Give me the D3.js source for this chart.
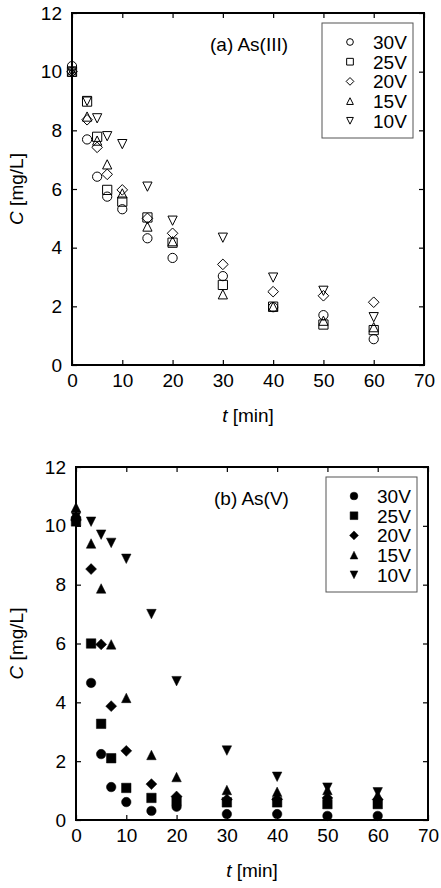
<!doctype html>
<html lang="en">
<head>
<meta charset="utf-8">
<title>As removal</title>
<script src="https://d3js.org/d3.v7.min.js"></script>
<style>
  body { margin: 0; background: #fff; }
  svg text { font-family: "Liberation Sans", Arial, sans-serif; fill: #000; }
  .frame { fill: none; stroke: #000; stroke-width: 2; }
</style>
</head>
<body>
<div id="chart"></div>
<script>
// sampling times [min]
const times = [0, 3, 5, 7, 10, 15, 20, 30, 40, 50, 60];
const voltages = ['30V', '25V', '20V', '15V', '10V'];
const xTicks = [0, 10, 20, 30, 40, 50, 60, 70];
const yTicks = [0, 2, 4, 6, 8, 10, 12];

// (a) As(III) concentration [mg/L]
const as3_30V = [10.19, 7.69, 6.42, 5.74, 5.31, 4.32, 3.65, 3.03, 1.97, 1.70, 0.88];
const as3_25V = [10.0, 8.98, 7.78, 5.97, 5.57, 5.03, 4.17, 2.73, 1.99, 1.38, 1.19];
const as3_20V = [10.0, 8.36, 7.42, 6.50, 5.97, 5.0, 4.49, 3.43, 2.50, 2.36, 2.14];
const as3_15V = [10.0, 8.47, 7.65, 6.84, 5.85, 4.72, 4.22, 2.41, 1.99, 1.51, 1.29];
const as3_10V = [10.0, 9.0, 8.41, 7.80, 7.53, 6.08, 4.92, 4.34, 2.98, 2.53, 1.63];

// (b) As(V) concentration [mg/L]
const as5_30V = [10.25, 4.66, 2.24, 1.12, 0.61, 0.31, 0.45, 0.20, 0.20, 0.14, 0.14];
const as5_25V = [10.15, 6.0, 3.27, 2.10, 1.09, 0.75, 0.65, 0.60, 0.60, 0.54, 0.54];
const as5_20V = [10.2, 8.53, 5.97, 3.87, 2.35, 1.22, 0.80, 0.70, 0.70, 0.75, 0.70];
const as5_15V = [10.63, 9.40, 7.87, 5.97, 4.15, 2.21, 1.46, 1.02, 0.96, 1.02, 0.85];
const as5_10V = [10.3, 10.14, 9.70, 9.42, 8.88, 7.0, 4.72, 2.36, 1.47, 1.10, 0.94];

// matplotlib-like marker shapes
const mk = {
  circle: { draw(c, s) { const r = Math.sqrt(s) / 2; c.moveTo(r, 0); c.arc(0, 0, r, 0, 2 * Math.PI); } },
  square: { draw(c, s) { const r = Math.sqrt(s) / 2; c.rect(-r, -r, 2 * r, 2 * r); } },
  diamond: { draw(c, s) { const r = Math.sqrt(s) / 2 * 1.15; c.moveTo(0, -r); c.lineTo(r, 0); c.lineTo(0, r); c.lineTo(-r, 0); c.closePath(); } },
  up: { draw(c, s) { const r = Math.sqrt(s) / 2; c.moveTo(0, -r); c.lineTo(r, r); c.lineTo(-r, r); c.closePath(); } },
  down: { draw(c, s) { const r = Math.sqrt(s) / 2; c.moveTo(0, r); c.lineTo(r, -r); c.lineTo(-r, -r); c.closePath(); } }
};
const shapes = [mk.circle, mk.square, mk.diamond, mk.up, mk.down];

const svg = d3.select('#chart').append('svg')
  .attr('width', 441).attr('height', 888);

function panel(cfg) {
  const x = d3.scaleLinear().domain([0, 70]).range([cfg.left, cfg.right]);
  const y = d3.scaleLinear().domain([0, 12]).range([cfg.bottom, cfg.top]);
  const g = svg.append('g');

  // ticks on all four sides, pointing inward
  g.append('g').attr('transform', `translate(0,${cfg.bottom})`)
    .call(d3.axisBottom(x).tickValues(xTicks).tickSize(-5).tickPadding(9).tickFormat(d3.format('d')));
  g.append('g').attr('transform', `translate(0,${cfg.top})`)
    .call(d3.axisTop(x).tickValues(xTicks).tickSize(-5).tickFormat(''));
  g.append('g').attr('transform', `translate(${cfg.left},0)`)
    .call(d3.axisLeft(y).tickValues(yTicks).tickSize(-5).tickPadding(10).tickFormat(d3.format('d')));
  g.append('g').attr('transform', `translate(${cfg.right},0)`)
    .call(d3.axisRight(y).tickValues(yTicks).tickSize(-5).tickFormat(''));
  g.selectAll('.domain').remove();
  g.selectAll('.tick line').attr('stroke', '#000').attr('stroke-width', 1.2);
  g.selectAll('.tick text').style('font-size', '19px').attr('fill', '#000');

  g.append('rect').attr('class', 'frame')
    .attr('x', cfg.left).attr('y', cfg.top)
    .attr('width', cfg.right - cfg.left).attr('height', cfg.bottom - cfg.top);

  // data markers
  cfg.series.forEach((vals, i) => {
    g.append('g').selectAll('path')
      .data(vals.map((v, j) => [times[j], v]))
      .join('path')
      .attr('transform', d => `translate(${x(d[0])},${y(d[1])})`)
      .attr('d', d3.symbol().type(shapes[i]).size(cfg.filled ? 90 : 85))
      .attr('fill', cfg.filled ? '#000' : 'none')
      .attr('stroke', '#000')
      .attr('stroke-width', cfg.filled ? 0.5 : 1);
  });

  // panel title
  g.append('text').attr('x', cfg.titleX).attr('y', cfg.top + 38)
    .style('font-size', '19px').text(cfg.title);

  // legend
  const lg = g.append('g').attr('transform', `translate(${cfg.right - 102},${cfg.top + 10})`);
  lg.append('rect').attr('width', 91).attr('height', 115)
    .attr('fill', '#fff').attr('stroke', '#555').attr('stroke-width', 1);
  voltages.forEach((v, i) => {
    const row = lg.append('g').attr('transform', `translate(0,${19 + i * 19.7})`);
    row.append('path').attr('transform', 'translate(28,0)')
      .attr('d', d3.symbol().type(shapes[i]).size(cfg.filled ? 60 : 45))
      .attr('fill', cfg.filled ? '#000' : 'none')
      .attr('stroke', '#000').attr('stroke-width', cfg.filled ? 0.5 : 1);
    row.append('text').attr('x', 51).attr('y', 7)
      .style('font-size', '19px').text(v);
  });

  // axis labels
  const xl = g.append('text').attr('x', (cfg.left + cfg.right) / 2).attr('y', cfg.bottom + 57)
    .attr('text-anchor', 'middle').style('font-size', '19px');
  xl.append('tspan').style('font-style', 'italic').text('t');
  xl.append('tspan').text(' [min]');

  const yl = g.append('text')
    .attr('transform', `translate(23,${(cfg.top + cfg.bottom) / 2}) rotate(-90)`)
    .attr('text-anchor', 'middle').style('font-size', '19px');
  yl.append('tspan').style('font-style', 'italic').text('C');
  yl.append('tspan').text(' [mg/L]');
}

panel({
  left: 72, right: 424, top: 13, bottom: 365,
  title: '(a) As(III)', titleX: 210, filled: false,
  series: [as3_30V, as3_25V, as3_20V, as3_15V, as3_10V]
});
panel({
  left: 76, right: 428, top: 467, bottom: 820,
  title: '(b) As(V)', titleX: 214, filled: true,
  series: [as5_30V, as5_25V, as5_20V, as5_15V, as5_10V]
});
</script>
</body>
</html>
